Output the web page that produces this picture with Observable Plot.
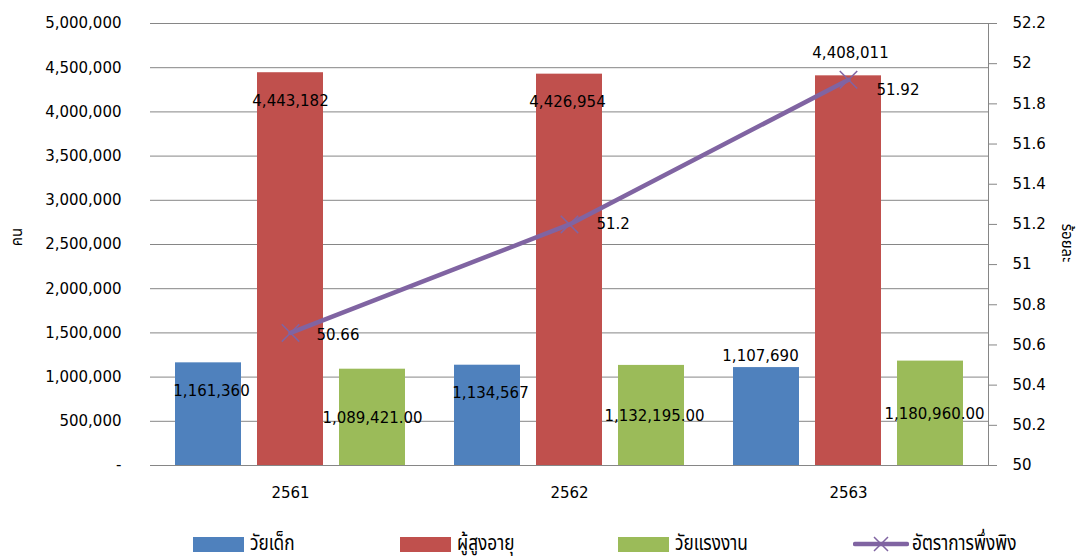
<!DOCTYPE html>
<html><head><meta charset="utf-8">
<script src="https://cdn.jsdelivr.net/npm/d3@7"></script>
<script src="https://cdn.jsdelivr.net/npm/@observablehq/plot@0.6"></script>
<style>
html,body{margin:0;padding:0;background:#fff;}
#wrap{position:relative;width:1080px;height:560px;overflow:hidden;font-family:"DejaVu Sans",sans-serif;}
.ylab{position:absolute;font-family:"Noto Sans Thai","Noto Sans","DejaVu Sans",sans-serif;font-size:15px;font-weight:normal;white-space:nowrap;line-height:1.2;}
.leg{position:absolute;top:533px;height:22px;display:flex;align-items:center;font-family:"Noto Sans Thai","Noto Sans","DejaVu Sans",sans-serif;font-size:21px;font-weight:normal;white-space:nowrap;line-height:1.1;}
.leg span{display:inline-block;transform:scaleX(0.82);transform-origin:left center;}
.sw{width:51px;height:15px;margin-right:6px;}
</style></head>
<body><div id="wrap"></div>
<script>
const years = ["2561", "2562", "2563"];
const child = [1161360, 1134567, 1107690];
const elderly = [4443182, 4426954, 4408011];
const working = [1089421, 1132195, 1180960];
const ratio = [50.66, 51.2, 51.92];
const leftTicks = [0, 500000, 1000000, 1500000, 2000000, 2500000, 3000000, 3500000, 4000000, 4500000, 5000000];
const rightTicks = [50, 50.2, 50.4, 50.6, 50.8, 51, 51.2, 51.4, 51.6, 51.8, 52, 52.2];
const seriesNames = ["วัยเด็ก", "ผู้สูงอายุ", "วัยแรงงาน", "อัตราการพึ่งพิง"];
const colors = ["#4F81BD", "#C0504D", "#9BBB59", "#8064A2"];

// label placement (annotation offsets in px)
const childLab = {dx: [3, 3, -6], dy: [28, 28, -11]};
const elderLab = {dx: [0, -2, 2], dy: [28, 28, -23]};
const workLab = {dx: [0, 3, 4], dy: [49, 51, 53]};
const ratioLab = {dx: [26, 27, 28], dy: [2, 0, 10]};

const rMin = 50, rMax = 52.2, lMax = 5000000;
const toLeft = v => (v - rMin) / (rMax - rMin) * lMax;
const fmt = d3.format(",");
const fmt2 = d3.format(",.2f");
const off = 82;

const marks = [
  Plot.gridY(leftTicks, {stroke: "#868686", strokeOpacity: 1}),
  Plot.axisX({tickSize: 0, tickPadding: 22, label: null, fill: "black"}),
  Plot.axisY(leftTicks, {anchor: "left", tickSize: 0, tickPadding: 29, label: null, fill: "black",
    tickFormat: d => d === 0 ? "-" : fmt(d)}),
  Plot.axisY(rightTicks.map(toLeft), {anchor: "right", tickSize: 8, tickPadding: 16, label: null,
    stroke: "#868686", fill: "black", textAnchor: "start",
    tickFormat: (d, i) => String(rightTicks[i])}),
  Plot.frame({anchor: "right", stroke: "#868686"}),
  Plot.barY(child, {x: years, y: child, fill: colors[0], dx: -off}),
  Plot.barY(elderly, {x: years, y: elderly, fill: colors[1]}),
  Plot.barY(working, {x: years, y: working, fill: colors[2], dx: off}),
  Plot.line(ratio, {x: years, y: ratio.map(toLeft), stroke: colors[3], strokeWidth: 4.5}),
  Plot.dot(ratio, {x: years, y: ratio.map(toLeft), symbol: "times", r: 8, stroke: colors[3], strokeWidth: 1.5})
];
years.forEach((yr, i) => {
  marks.push(Plot.text([0], {x: [yr], y: [child[i]], text: [fmt(child[i])], dx: -off + childLab.dx[i], dy: childLab.dy[i], fill: "black"}));
  marks.push(Plot.text([0], {x: [yr], y: [elderly[i]], text: [fmt(elderly[i])], dx: elderLab.dx[i], dy: elderLab.dy[i], fill: "black"}));
  marks.push(Plot.text([0], {x: [yr], y: [working[i]], text: [fmt2(working[i])], dx: off + workLab.dx[i], dy: workLab.dy[i], fill: "black"}));
  marks.push(Plot.text([0], {x: [yr], y: [toLeft(ratio[i])], text: [String(ratio[i])], dx: ratioLab.dx[i], dy: ratioLab.dy[i], textAnchor: "start", fill: "black"}));
});

const chart = Plot.plot({
  width: 1080, height: 520,
  marginLeft: 150, marginRight: 92, marginTop: 23, marginBottom: 55,
  style: {fontFamily: "DejaVu Sans, sans-serif", fontSize: "15px", color: "black", background: "white", overflow: "visible"},
  x: {domain: years, paddingInner: 0.764, paddingOuter: 0.382},
  y: {domain: [0, lMax]},
  marks
});
const wrap = document.getElementById("wrap");
wrap.appendChild(chart);

function addDiv(cls, html, css) {
  const d = document.createElement("div");
  d.className = cls; d.innerHTML = html; Object.assign(d.style, css); wrap.appendChild(d); return d;
}
addDiv("ylab", "คน", {left: "18px", top: "237px", transform: "translate(-50%,-50%) rotate(-90deg)"});
addDiv("ylab", "ร้อยละ", {left: "1066px", top: "243px", transform: "translate(-50%,-50%) rotate(90deg)"});

const legX = [193, 400, 618];
for (let i = 0; i < 3; i++) {
  addDiv("leg", `<div class="sw" style="background:${colors[i]}"></div><span>${seriesNames[i]}</span>`, {left: legX[i] + "px"});
}
addDiv("leg", `<svg width="56" height="22" style="margin-right:3px"><line x1="2" y1="11" x2="54" y2="11" stroke="${colors[3]}" stroke-width="4.5" stroke-linecap="round"/><path d="M21,4 L35,18 M35,4 L21,18" stroke="${colors[3]}" stroke-width="1.5"/></svg><span>${seriesNames[3]}</span>`, {left: "853px"});
</script></body></html>
